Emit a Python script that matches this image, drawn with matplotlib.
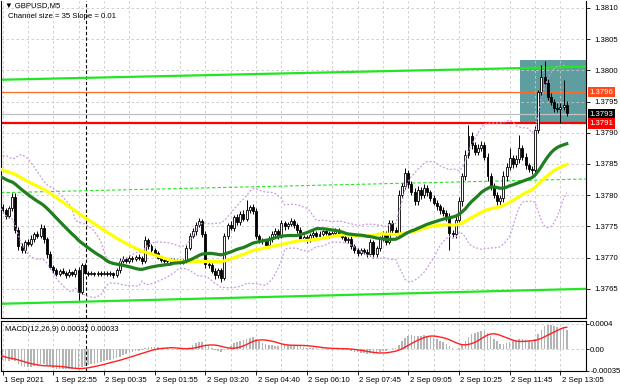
import numpy as np
import pandas as pd
import matplotlib
matplotlib.use("Agg")
import matplotlib.pyplot as plt
import matplotlib.transforms as mtransforms
from matplotlib.patches import Rectangle
from matplotlib import font_manager

# prices are stored as points (1e-5) above 1.37000
BASE = 1.37

# bars before the visible window (only used to warm up the indicators)
pre_closes = [864, 860, 866, 862, 857, 861, 865, 859, 855, 859, 863, 867, 864, 859, 856,
              861, 865, 862, 857, 860, 863, 859, 855, 858, 861, 857, 854, 859, 856, 854,
              851, 850, 851, 848, 847, 848, 845, 844, 845, 842, 841, 842, 840, 839, 840,
              838, 837, 838, 836, 834, 831, 827, 822, 816, 810, 803, 797, 791, 786, 781]

# visible M5 bars: closes
closes = [776, 767, 779, 797, 745, 718, 712, 725, 722, 730,
          738, 735, 748, 730, 705, 685, 680, 674, 679, 676,
          672, 677, 673, 680, 645, 688, 676, 674, 675, 673,
          676, 674, 676, 673, 675, 672, 680, 695, 698, 695,
          700, 697, 701, 699, 694, 728, 718, 712, 708, 700,
          696, 694, 697, 693, 696, 695, 692, 696, 715, 735,
          742, 752, 758, 738, 690, 688, 679, 672, 680, 668,
          735, 752, 748, 765, 757, 770, 762, 776, 781, 775,
          735, 728, 726, 720, 730, 738, 742, 735, 755, 750,
          754, 758, 752, 745, 730, 733, 728, 736, 740, 735,
          738, 742, 739, 736, 740, 744, 738, 733, 728, 730,
          718, 712, 708, 712, 709, 706, 725, 705, 715, 730,
          738, 725, 755, 745, 740, 800, 815, 835, 818, 805,
          790, 808, 800, 812, 805, 795, 788, 782, 776, 772,
          765, 740, 738, 760, 790, 830, 865, 895, 880, 870,
          876, 880, 862, 830, 815, 800, 790, 795, 830, 845,
          860, 850, 858, 875, 862, 848, 842, 840, 905, 965,
          990, 980, 958, 950, 940, 938, 942, 945, 932]

# wick length above / below the body, points
wick_up = [5, 4, 3, 7, 6, 4, 5, 3, 4, 6,
           3, 5, 6, 4, 3, 5, 3, 4, 3, 4,
           3, 4, 2, 3, 5, 4, 3, 2, 3, 2,
           3, 2, 3, 2, 3, 2, 4, 5, 4, 3,
           4, 3, 3, 4, 3, 6, 4, 3, 4, 3,
           3, 2, 3, 2, 3, 2, 3, 2, 5, 4,
           6, 5, 6, 4, 5, 4, 3, 5, 4, 3,
           5, 4, 6, 4, 5, 4, 6, 16, 4, 5,
           4, 3, 4, 3, 5, 4, 6, 4, 5, 4,
           3, 5, 4, 3, 4, 3, 4, 3, 4, 3,
           4, 3, 3, 4, 3, 4, 3, 3, 4, 3,
           4, 3, 4, 3, 3, 4, 5, 3, 4, 5,
           4, 5, 6, 5, 4, 8, 5, 9, 6, 5,
           7, 6, 5, 6, 5, 4, 6, 5, 4, 5,
           4, 6, 5, 6, 7, 6, 8, 18, 6, 5,
           6, 7, 5, 6, 5, 4, 5, 6, 8, 6,
           16, 5, 6, 21, 5, 6, 4, 5, 6, 4,
           19, 25, 6, 5, 4, 8, 5, 40, 6]
wick_dn = [4, 5, 3, 4, 5, 6, 4, 5, 3, 4,
           5, 3, 4, 6, 5, 4, 5, 3, 4, 3,
           4, 3, 3, 4, 13, 4, 3, 3, 2, 3,
           2, 3, 2, 3, 2, 4, 3, 4, 3, 4,
           3, 4, 3, 3, 4, 3, 4, 3, 4, 3,
           3, 2, 3, 3, 2, 3, 2, 3, 4, 3,
           4, 5, 3, 5, 6, 5, 4, 6, 5, 7,
           4, 5, 4, 5, 4, 5, 4, 3, 4, 5,
           6, 5, 4, 5, 4, 5, 4, 5, 4, 5,
           4, 3, 4, 5, 4, 3, 4, 3, 4, 3,
           3, 4, 3, 4, 3, 4, 3, 4, 3, 4,
           5, 4, 5, 4, 3, 5, 4, 6, 4, 5,
           4, 5, 4, 5, 6, 5, 4, 5, 6, 5,
           6, 5, 6, 5, 6, 5, 4, 5, 6, 5,
           6, 28, 5, 6, 5, 7, 6, 5, 6, 5,
           6, 5, 6, 7, 6, 5, 6, 9, 6, 7,
           5, 6, 5, 6, 5, 6, 5, 6, 8, 5,
           6, 5, 6, 5, 6, 5, 22, 6, 5]

time_labels = ['1 Sep 2021', '1 Sep 22:55', '2 Sep 00:35', '2 Sep 01:55', '2 Sep 03:20',
               '2 Sep 04:40', '2 Sep 06:10', '2 Sep 07:45', '2 Sep 09:05', '2 Sep 10:25',
               '2 Sep 11:45', '2 Sep 13:05']
price_ticks = [1.3765, 1.3770, 1.3775, 1.3780, 1.3785, 1.3790, 1.3795, 1.3800, 1.3805, 1.3810]
macd_ticks = [0.0004, 0.0, -0.00035]
macd_tick_labels = ['0.0004', '0.00', '-0.00035']

# channel lines, price at left and right edge of the window
channel_upper = [1.37985, 1.38006]
channel_mid = [1.37804, 1.37826]
channel_lower = [1.37626, 1.37650]

# horizontal levels and their price tags
levels = [1.37965, 1.3793, 1.37915]
level_tags = ['1.3796', '1.3793', '1.3791']
zone_bottom, zone_top = 1.37915, 1.38017

# ---------------------------------------------------------------
installed = {f.name for f in font_manager.fontManager.ttflist}
if 'Liberation Sans Narrow' in installed:
    FONT, FS = 'Liberation Sans Narrow', 6.6
else:
    FONT, FS = 'Liberation Sans', 5.6
plt.rcParams['font.family'] = [FONT, 'DejaVu Sans']

all_c = BASE + np.array(pre_closes + closes) / 1e5
n_pre = len(pre_closes)
x_all = np.arange(len(all_c)) - n_pre
s = pd.Series(all_c)

ma_fast = s.rolling(30).mean()
ma_slow = s.rolling(50).mean()
bb_mid = s.rolling(20).mean()
bb_std = s.rolling(20).std(ddof=0)
bb_up = bb_mid + 2 * bb_std
bb_dn = bb_mid - 2 * bb_std
macd = s.ewm(span=12, adjust=False).mean() - s.ewm(span=26, adjust=False).mean()
signal = macd.rolling(9).mean()

x = np.arange(len(closes))
c = all_c[n_pre:]
o = all_c[n_pre - 1:-1]
hi = np.maximum(o, c) + np.array(wick_up) / 1e5
lo = np.minimum(o, c) - np.array(wick_dn) / 1e5
bull = c >= o

# pixel layout: bar j sits at 2.5 + 3.17*j px, plot spans 1..586 px
X0, X1 = (1 - 2.5) / 3.17, (586 - 2.5) / 3.17

fig = plt.figure(figsize=(6.2, 3.88), dpi=100)
ax = fig.add_axes([1 / 620, 1 - 318 / 388, 585 / 620, 317 / 388])
ax2 = fig.add_axes([1 / 620, 1 - 371 / 388, 585 / 620, 50 / 388])

grid_kw = dict(color='#c8c8c8', lw=0.6, ls=(0, (3, 3)), zorder=1)
for p in price_ticks:
    ax.axhline(p, **grid_kw)
for m in macd_ticks:
    ax2.axhline(m, **grid_kw)
for j in range(0, 185, 8):
    ax.axvline(j, **grid_kw)
    ax2.axvline(j, **grid_kw)

# day separator
for a in (ax, ax2):
    a.axvline(26.3, color='black', lw=0.8, ls=(0, (3, 2)), zorder=1.5)

ax.add_patch(Rectangle((163.2, zone_bottom), X1 - 163.2, zone_top - zone_bottom,
                       facecolor='#5f9ea0', edgecolor='none', zorder=0.8))

ax.plot([X0, X1], channel_upper, color='#22e622', lw=1.6, zorder=2)
ax.plot([X0, X1], channel_lower, color='#22e622', lw=1.6, zorder=2)
ax.plot([X0, X1], channel_mid, color='#22e622', lw=0.8, ls=(0, (3, 2)), zorder=2)

ax.axhline(levels[0], color='#ff6a28', lw=0.9, zorder=2)
ax.axhline(levels[1], color='#c0c0c0', lw=0.9, zorder=2)
ax.axhline(levels[2], color='#ff0000', lw=1.6, zorder=2)

# candles
ax.vlines(x, lo, hi, color='black', lw=0.7, zorder=3)
ax.bar(x[bull], (c - o)[bull], bottom=o[bull], width=0.62, facecolor='white',
       edgecolor='black', lw=0.6, zorder=3.1)
ax.bar(x[~bull], (o - c)[~bull], bottom=c[~bull], width=0.62, facecolor='black',
       edgecolor='black', lw=0.6, zorder=3.1)

# indicators
dot = (0, (1.5, 1.5))
ax.plot(x_all, bb_up, color='#c69be0', lw=0.9, ls=dot, zorder=4)
ax.plot(x_all, bb_dn, color='#c69be0', lw=0.9, ls=dot, zorder=4)
ax.plot(x_all, ma_slow, color='#ffff00', lw=2.3, zorder=4.2)
ax.plot(x_all, ma_fast, color='#1f7f1f', lw=2.3, zorder=4.3)

ax.set_xlim(X0, X1)
ax.set_ylim(1.376032, 1.381112)
ax.yaxis.tick_right()
ax.set_yticks(price_ticks)
ax.set_yticklabels([f'{p:.4f}' for p in price_ticks])
ax.tick_params(axis='y', direction='out', length=3, width=0.6, labelsize=FS, pad=3)
ax.set_xticks([])
ax.spines['top'].set_visible(False)
for sp in ('left', 'right', 'bottom'):
    ax.spines[sp].set_linewidth(0.8)

blend = mtransforms.blended_transform_factory(ax.transAxes, ax.transData)
tag_colors = ['#ff4a1c', 'black', '#ff0000']
for lv, tag, col in zip(levels, level_tags, tag_colors):
    ax.text(1.006, lv, tag, transform=blend, ha='left', va='center', fontsize=FS,
            color='white', clip_on=False, zorder=6,
            bbox=dict(boxstyle='square,pad=0.22', facecolor=col, edgecolor='none'))

# MACD panel
ax2.bar(x, macd.values[n_pre:], width=0.5, color='#b4b4b4', zorder=2)
ax2.plot(x_all, signal, color='#ff2020', lw=1.0, zorder=3)
ax2.set_xlim(X0, X1)
ax2.set_ylim(-0.000352, 0.000448)
ax2.yaxis.tick_right()
ax2.set_yticks(macd_ticks)
ax2.set_yticklabels(macd_tick_labels)
ax2.tick_params(axis='y', direction='out', length=2, width=0.6, labelsize=FS, pad=1)
ax2.set_xticks(np.arange(len(time_labels)) * 16)
ax2.set_xticklabels(time_labels)
ax2.tick_params(axis='x', direction='out', length=3, width=0.6, labelsize=FS, pad=1.5)
shift = mtransforms.ScaledTranslation(1.5 / 100, 0, fig.dpi_scale_trans)
for lab in ax2.get_xticklabels():
    lab.set_horizontalalignment('left')
    lab.set_transform(lab.get_transform() + shift)
for sp in ax2.spines.values():
    sp.set_linewidth(0.8)

fig.text(5 / 620, 1 - 2 / 388, '\u25bc GBPUSD,M5', fontsize=FS, va='top')
fig.text(8 / 620, 1 - 13 / 388, 'Channel size = 35 Slope = 0.01', fontsize=FS, va='top')
fig.text(5 / 620, 1 - 326 / 388, 'MACD(12,26,9) 0.00032 0.00033', fontsize=FS, va='top')

fig.savefig('out.png', dpi=100)
